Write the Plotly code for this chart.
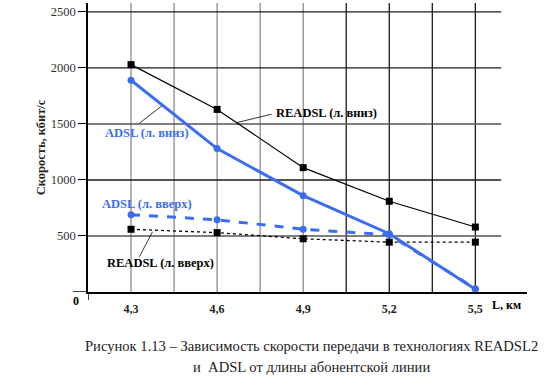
import plotly.graph_objects as go

# ---- data ----
lengths = [4.3, 4.6, 4.9, 5.2, 5.5]
length_labels = ["4,3", "4,6", "4,9", "5,2", "5,5"]
readsl_down = [2030, 1630, 1110, 810, 580]
readsl_up = [560, 530, 475, 445, 445]
adsl_down = [1890, 1280, 860, 520, 25]
adsl_up = [690, 645, 560, 510, 30]
y_ticks = [500, 1000, 1500, 2000, 2500]
minor_grid = [4.45, 4.75, 5.05, 5.35]

BLUE = "#3a6df2"
SERIF = "Liberation Serif"

fig = go.Figure()

# vertical gridlines (gray on the left half, black on the right half)
for gx in sorted(lengths + minor_grid):
    fig.add_shape(type="line", xref="x", yref="y domain", x0=gx, x1=gx, y0=0, y1=1,
                  line=dict(color="#8c8c8c" if gx < 5.0 else "#1a1a1a", width=1.3), layer="below")
# horizontal gridlines
for gy in y_ticks:
    fig.add_shape(type="line", xref="x", yref="y", x0=4.15, x1=5.59, y0=gy, y1=gy,
                  line=dict(color="#1a1a1a" if gy not in (500, 1500) else "#555555", width=1.3),
                  layer="below")
# axis extensions
fig.add_shape(type="line", xref="x domain", yref="y", x0=-15/439, x1=0, y0=0, y1=0,
              line=dict(color="black", width=1.5))
fig.add_shape(type="line", xref="x", yref="y domain", x0=4.15, x1=4.15, y0=-8/289, y1=0,
              line=dict(color="black", width=1.5))

fig.add_trace(go.Scatter(x=lengths, y=readsl_down, mode="lines+markers",
                         line=dict(color="black", width=1.2),
                         marker=dict(symbol="square", size=7, color="black")))
fig.add_trace(go.Scatter(x=lengths, y=readsl_up, mode="lines+markers",
                         line=dict(color="black", width=1.3, dash="dot"),
                         marker=dict(symbol="square", size=7, color="black")))
fig.add_trace(go.Scatter(x=lengths, y=adsl_up, mode="lines+markers",
                         line=dict(color=BLUE, width=3, dash="dash"),
                         marker=dict(symbol="circle", size=7, color=BLUE)))
fig.add_trace(go.Scatter(x=lengths, y=adsl_down, mode="lines+markers",
                         line=dict(color=BLUE, width=3),
                         marker=dict(symbol="circle", size=7, color=BLUE)))

# leader lines
leaders = [((4.668, 1512), (4.790, 1587)),
           ((4.329, 1506), (4.407, 1661)),
           ((4.329, 315), (4.375, 538))]
for (a, b) in leaders:
    fig.add_shape(type="line", xref="x", yref="y", x0=a[0], y0=a[1], x1=b[0], y1=b[1],
                  line=dict(color="black", width=0.8))

labels = [
    ("READSL (л. вниз)", 4.798, 1594, "black"),
    ("ADSL (л. вниз)", 4.201, 1422, BLUE),
    ("ADSL (л. вверх)", 4.192, 786, BLUE),
    ("READSL (л. вверх)", 4.209, 259, "black"),
]
for t, x, y, c in labels:
    fig.add_annotation(x=x, y=y, xref="x", yref="y", text=t, showarrow=False,
                       xanchor="left", yanchor="middle",
                       font=dict(family=SERIF, size=12.5, color=c, weight="bold"))

fig.add_annotation(x=-0.0273, y=-0.031, xref="paper", yref="paper", text="0", showarrow=False,
                   xanchor="center", yanchor="middle",
                   font=dict(family=SERIF, size=12, color="black", weight="bold"))
fig.add_annotation(x=0.954, y=-0.045, xref="paper", yref="paper", text="L, км", showarrow=False,
                   xanchor="center", yanchor="middle",
                   font=dict(family=SERIF, size=12, color="black", weight="bold"))

fig.add_annotation(x=0.51, y=-0.187, xref="paper", yref="paper", showarrow=False,
                   text="Рисунок 1.13 – Зависимость скорости передачи в технологиях READSL2",
                   font=dict(family=SERIF, size=14.6, color="#222"),
                   xanchor="center", yanchor="middle")
fig.add_annotation(x=0.51, y=-0.26, xref="paper", yref="paper", showarrow=False,
                   text="и  ADSL от длины абонентской линии",
                   font=dict(family=SERIF, size=14.6, color="#222"),
                   xanchor="center", yanchor="middle")

fig.update_layout(
    width=548, height=380,
    margin=dict(l=88, r=21, t=3, b=88),
    plot_bgcolor="white", paper_bgcolor="white",
    showlegend=False,
    font=dict(family=SERIF, color="#222"),
    xaxis=dict(range=[4.15, 5.68], tickvals=lengths, ticktext=length_labels,
               showgrid=False, zeroline=False, showline=True, linecolor="black", linewidth=1.5,
               ticks="", ticklabelstandoff=5,
               tickfont=dict(family=SERIF, size=12, color="#222", weight="bold")),
    yaxis=dict(range=[0, 2580], tickvals=y_ticks, showgrid=False, zeroline=False,
               showline=True, linecolor="black", linewidth=1.5,
               ticks="outside", ticklen=8, tickcolor="black", tickwidth=1.3,
               tickfont=dict(family=SERIF, size=12.5, color="#333"),
               title=dict(text="Скорость, кбит/с", standoff=2,
                          font=dict(family=SERIF, size=12.5, color="#222", weight="bold"))),
)

fig.write_html("out.html", config={"displayModeBar": False},
               post_script="document.body.style.margin='0px';document.body.style.overflow='hidden';")
